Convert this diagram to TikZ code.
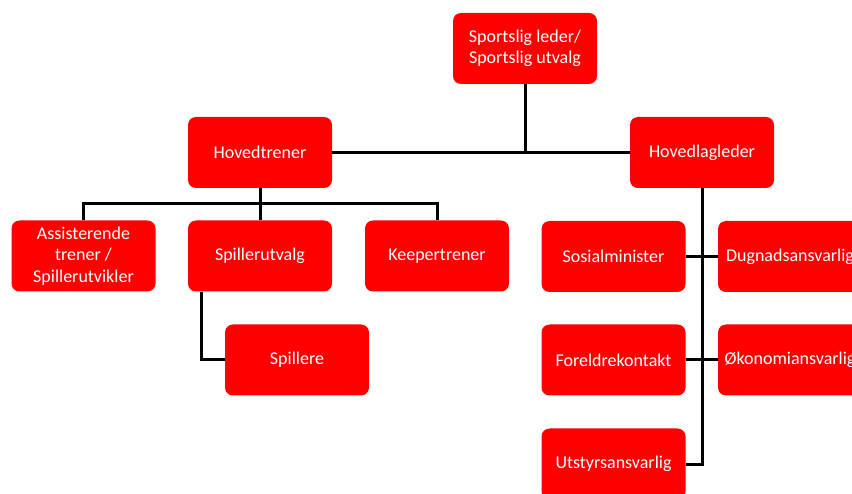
\documentclass[tikz,border=0pt]{standalone}
\usepackage{fontspec}
\setmainfont{Carlito}
\usetikzlibrary{calc}
\begin{document}
\begin{tikzpicture}[x=1pt,y=-1pt,
  box/.style={draw=none,fill={rgb,255:red,255;green,0;blue,0},rounded corners=8pt,
    minimum width=144pt,minimum height=71pt,text=white,align=center,
    font=\fontsize{18}{21.5}\selectfont,inner sep=2pt},
  conn/.style={draw=black,line width=3pt}]
\useasboundingbox (0,0) rectangle (852,494);
\clip (0,0) rectangle (852,494);
\fill[white] (0,0) rectangle (852,494);
\node[box] (top) at (525,48.5) {Sportslig leder/\\Sportslig utvalg};
\node[box] (ht) at (260,152.5) {Hovedtrener};
\node[box] (hl) at (702,152.5) {Hovedlagleder};
\node[box] (ass) at (83.5,256) {Assisterende\\trener /\\Spillerutvikler};
\node[box] (spu) at (260,256) {Spillerutvalg};
\node[box] (kee) at (437,256) {Keepertrener};
\node[box] (spi) at (297,360) {Spillere};
\node[box] (sos) at (613.5,256.5) {Sosialminister};
\node[box] (dug) at (790,256.5) {Dugnadsansvarlig};
\node[box] (for) at (613.5,360) {Foreldrekontakt};
\node[box] (oko) at (790,360) {Økonomiansvarlig};
\node[box] (uts) at (613.5,464) {Utstyrsansvarlig};
\coordinate (bus) at (260,204);
\coordinate (spl) at (201,292);
\draw[conn] (ht.east) -- (hl.west);
\draw[conn] (top.south) -- (top.south |- ht.east);
\draw[conn] (ht.south) -- (spu.north);
\draw[conn] (ass.north) |- (bus) -| (kee.north);
\draw[conn] (spl) |- (spi.west);
\draw[conn] (hl.south) |- (uts.east);
\draw[conn] (sos.east) -- (dug.west);
\draw[conn] (for.east) -- (oko.west);
\end{tikzpicture}
\end{document}
